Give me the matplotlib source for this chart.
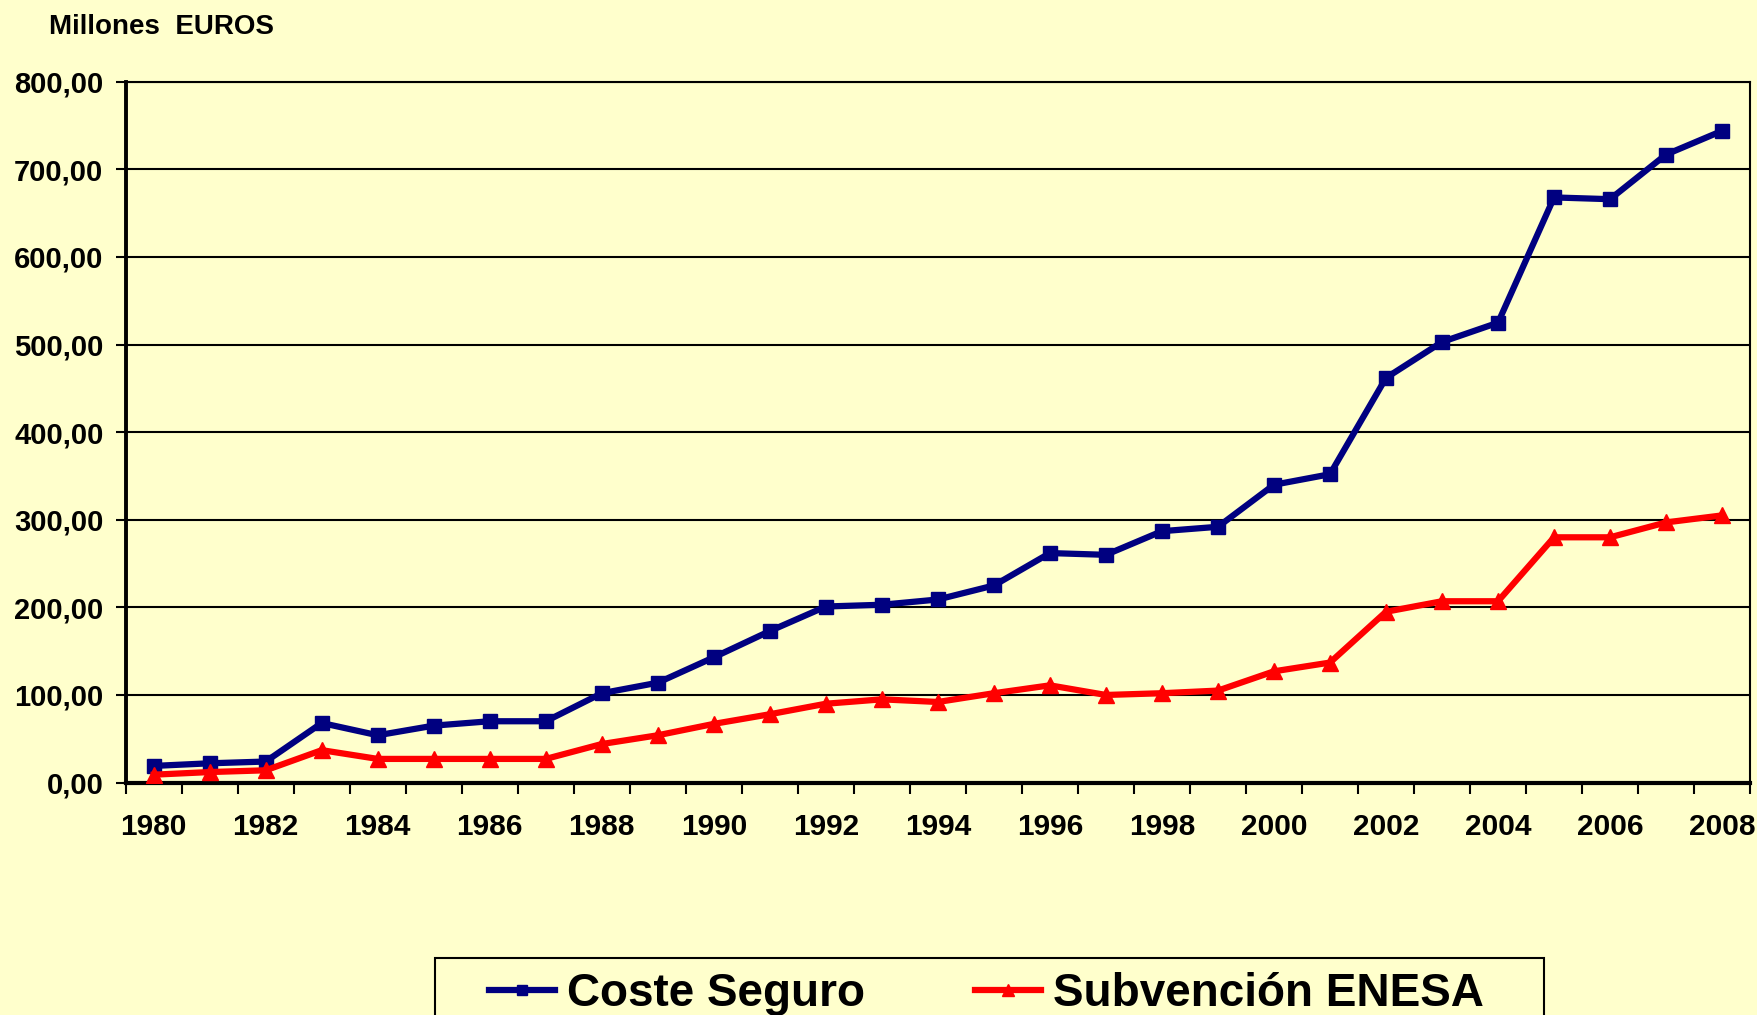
import matplotlib.pyplot as plt
from matplotlib.patches import Rectangle
from matplotlib.ticker import FixedLocator, FuncFormatter
import numpy as np

# years on the category axis
years = list(range(1980, 2009))

# Coste Seguro (millones de euros)
coste_seguro = [19, 22, 24, 68, 54, 65, 70, 70, 102, 114,
                143, 173, 201, 203, 209, 225, 262, 260, 287, 292,
                340, 352, 462, 503, 525, 668, 666, 717, 744]

# Subvencion ENESA (millones de euros)
subvencion_enesa = [9, 12, 14, 37, 27, 27, 27, 27, 44, 54,
                    67, 78, 90, 95, 92, 102, 111, 100, 102, 105,
                    127, 137, 195, 207, 207, 280, 280, 297, 305]

bg = '#FFFFCC'
plt.rcParams['font.family'] = ['Liberation Sans', 'DejaVu Sans']
plt.rcParams['font.weight'] = 'bold'

fig = plt.figure(figsize=(17.58, 10.15), dpi=100, facecolor=bg)
ax = fig.add_axes([0.0715, 0.229, 0.924, 0.6904], facecolor=bg)

x = np.arange(len(years))
ax.plot(x, coste_seguro, color='#000080', lw=4.5, marker='s', ms=10.5,
        label='Coste Seguro', zorder=3)
ax.plot(x, subvencion_enesa, color='#FF0000', lw=4.5, marker='^', ms=11.5,
        label='Subvención ENESA', zorder=3)

ax.set_xlim(-0.5, len(years) - 0.5)
ax.set_ylim(0, 800)

# y axis
ax.set_yticks(np.arange(0, 801, 100))
ax.yaxis.set_major_formatter(FuncFormatter(lambda v, p: f'{v:.2f}'.replace('.', ',')))
ax.yaxis.grid(True, color='black', lw=1.5)
ax.tick_params(axis='y', length=7, width=1.5, pad=9, labelsize=21)

# x axis: ticks on category boundaries, labels every second year
ax.xaxis.set_major_locator(FixedLocator(np.arange(-0.5, len(years), 1)))
ax.xaxis.set_major_formatter(FuncFormatter(lambda v, p: ''))
ax.xaxis.set_minor_locator(FixedLocator(x[::2]))
ax.xaxis.set_minor_formatter(FuncFormatter(lambda v, p: str(years[int(round(v))])))
ax.tick_params(axis='x', which='major', length=8, width=1.5)
ax.tick_params(axis='x', which='minor', length=0, pad=22, labelsize=21.5)

for s in ['top', 'right']:
    ax.spines[s].set_linewidth(1.5)
ax.spines['left'].set_linewidth(2.8)
ax.spines['bottom'].set_linewidth(3)

fig.text(0.028, 0.973, 'Millones  EUROS', fontsize=20, fontweight='bold', va='center')

# legend box runs past the bottom edge of the figure
fig.patches.append(Rectangle((0.2475, -0.1), 0.6308, 0.1564, transform=fig.transFigure,
                             facecolor=bg, edgecolor='black', lw=1.5, zorder=1))
leg = fig.legend(loc='center', bbox_to_anchor=(0.561, 0.021), ncol=2,
                 fontsize=33, frameon=False, handlelength=1.45, handletextpad=0.25,
                 columnspacing=2.4, markerscale=0.75)
for t in leg.get_texts():
    t.set_fontweight('bold')

fig.savefig('out.png', dpi=100, facecolor=bg)
